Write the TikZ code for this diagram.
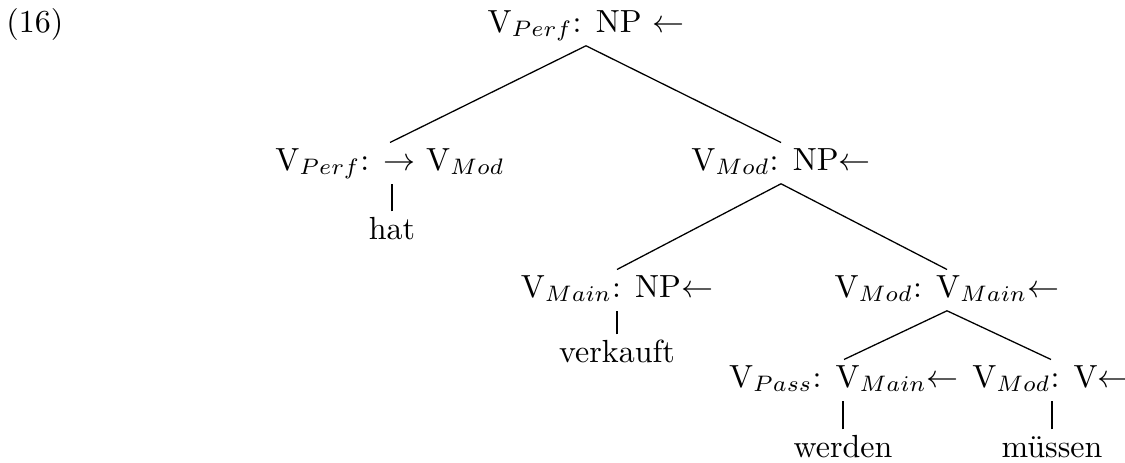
\documentclass[tikz,border=0pt]{standalone}
\begin{document}
\begin{tikzpicture}[x=0.3125pt, y=-0.3125pt,
  tn/.style={inner sep=1.5pt, anchor=base, text height=6.9pt, text depth=2.6pt},
  branch/.style={line width=0.4pt}]
\useasboundingbox (0,0) rectangle (1125,462);

% example number
\node[tn, anchor=base west] (exno) at (1,32) {(16)};

% tree nodes
\node[tn] (root) at (586,32) {V$_{Perf}$: NP $\leftarrow$};
\node[tn] (a) at (390,170) {V$_{Perf}$: $\rightarrow$ V$_{Mod}$};
\node[tn] (b) at (781,170) {V$_{Mod}$: NP$\leftarrow$};
\node[tn] (hat) at (392,239) {hat};
\node[tn] (c) at (617,297) {V$_{Main}$: NP$\leftarrow$};
\node[tn] (d) at (947,297) {V$_{Mod}$: V$_{Main}$$\leftarrow$};
\node[tn] (verk) at (617,362) {verkauft};
\node[tn] (e) at (844,387) {V$_{Pass}$: V$_{Main}$$\leftarrow$};
\node[tn] (f) at (1051,387) {V$_{Mod}$: V$\leftarrow$};
\node[tn] (werden) at (843,457) {werden};
\node[tn] (mussen) at (1052,457) {müssen};

% branches
\draw[branch] (root.south) -- (a.north);
\draw[branch] (root.south) -- (b.north);
\draw[branch] (b.south) -- (c.north);
\draw[branch] (b.south) -- (d.north);
\draw[branch] (d.south) -- (e.north);
\draw[branch] (d.south) -- (f.north);
\draw[branch] (hat.north) -- (hat.north |- a.south);
\draw[branch] (verk.north) -- (verk.north |- c.south);
\draw[branch] (werden.north) -- (werden.north |- e.south);
\draw[branch] (mussen.north) -- (mussen.north |- f.south);
\end{tikzpicture}
\end{document}
